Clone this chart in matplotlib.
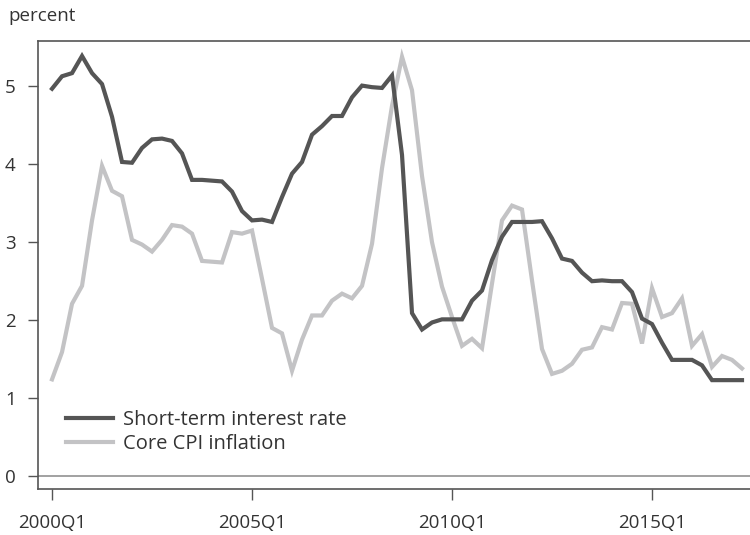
import numpy as np
import pandas as pd
import matplotlib
matplotlib.use('Agg')
import matplotlib.pyplot as plt

plt.rcParams['font.family'] = ['Open Sans', 'DejaVu Sans']

# quarterly series, 2000Q1 - 2017Q2
rate = [4.97, 5.13, 5.17, 5.39, 5.17, 5.03, 4.61, 4.03, 4.02, 4.21,
        4.32, 4.33, 4.30, 4.14, 3.80, 3.80, 3.79, 3.78, 3.65, 3.40,
        3.28, 3.29, 3.26, 3.58, 3.88, 4.03, 4.38, 4.49, 4.62, 4.62,
        4.86, 5.01, 4.99, 4.98, 5.14, 4.12, 2.09, 1.88, 1.97, 2.01,
        2.01, 2.01, 2.25, 2.38, 2.77, 3.07, 3.26, 3.26, 3.26, 3.27,
        3.05, 2.79, 2.76, 2.61, 2.50, 2.51, 2.50, 2.50, 2.36, 2.02,
        1.95, 1.71, 1.49, 1.49, 1.49, 1.42, 1.23, 1.23, 1.23, 1.23]

cpi = [1.24, 1.59, 2.21, 2.44, 3.28, 3.98, 3.66, 3.59, 3.03, 2.97,
       2.88, 3.03, 3.22, 3.20, 3.11, 2.76, 2.75, 2.74, 3.13, 3.11,
       3.15, 2.53, 1.90, 1.83, 1.35, 1.75, 2.06, 2.06, 2.25, 2.34,
       2.28, 2.44, 2.98, 3.95, 4.75, 5.38, 4.95, 3.85, 3.00, 2.43,
       2.04, 1.67, 1.76, 1.64, 2.47, 3.28, 3.47, 3.42, 2.51, 1.63,
       1.31, 1.35, 1.44, 1.62, 1.65, 1.91, 1.88, 2.22, 2.21, 1.70,
       2.41, 2.04, 2.09, 2.28, 1.67, 1.82, 1.40, 1.54, 1.49, 1.38]

tick_labels = ['2000Q1', '2005Q1', '2010Q1', '2015Q1']

quarters = pd.period_range('2000Q1', periods=len(rate), freq='Q')
labels = [f'{q.year}Q{q.quarter}' for q in quarters]
x = np.arange(len(rate))
tick_pos = [labels.index(t) for t in tick_labels]

fig = plt.figure(figsize=(7.5, 5.35), dpi=100)
ax = fig.add_axes([0.0507, 0.086, 0.9493, 0.837])

ax.axhline(0, color='#9a9a9a', lw=1.3, zorder=1)
ax.plot(x, rate, color='#555555', lw=3, solid_joinstyle='miter',
        label='Short-term interest rate', zorder=3)
ax.plot(x, cpi, color='#c3c3c5', lw=3, solid_joinstyle='miter',
        label='Core CPI inflation', zorder=2)

ax.set_xlim(-1.4, 69.8)
ax.set_ylim(-0.167, 5.58)
ax.set_xticks(tick_pos)
ax.set_xticklabels(tick_labels)
ax.set_yticks(range(0, 6))

for s in ['left', 'bottom', 'top']:
    ax.spines[s].set_color('#555555')
    ax.spines[s].set_linewidth(1.2)
ax.spines['right'].set_visible(False)

ax.tick_params(axis='x', length=8, width=1, color='#555555', pad=10,
               labelsize=13.5, labelcolor='#333333')
ax.tick_params(axis='y', length=7, width=1, color='#555555', pad=9,
               labelsize=13.5, labelcolor='#333333')

fig.text(0.011, 0.97, 'percent', fontsize=13.5, color='#333333',
         va='center', ha='left')

ax.legend(loc='lower left', bbox_to_anchor=(0.014, 0.038), frameon=False,
          fontsize=14.5, handlelength=2.35, handletextpad=0.45,
          labelspacing=0.2, labelcolor='#333333')

fig.savefig('out.png', dpi=100)
